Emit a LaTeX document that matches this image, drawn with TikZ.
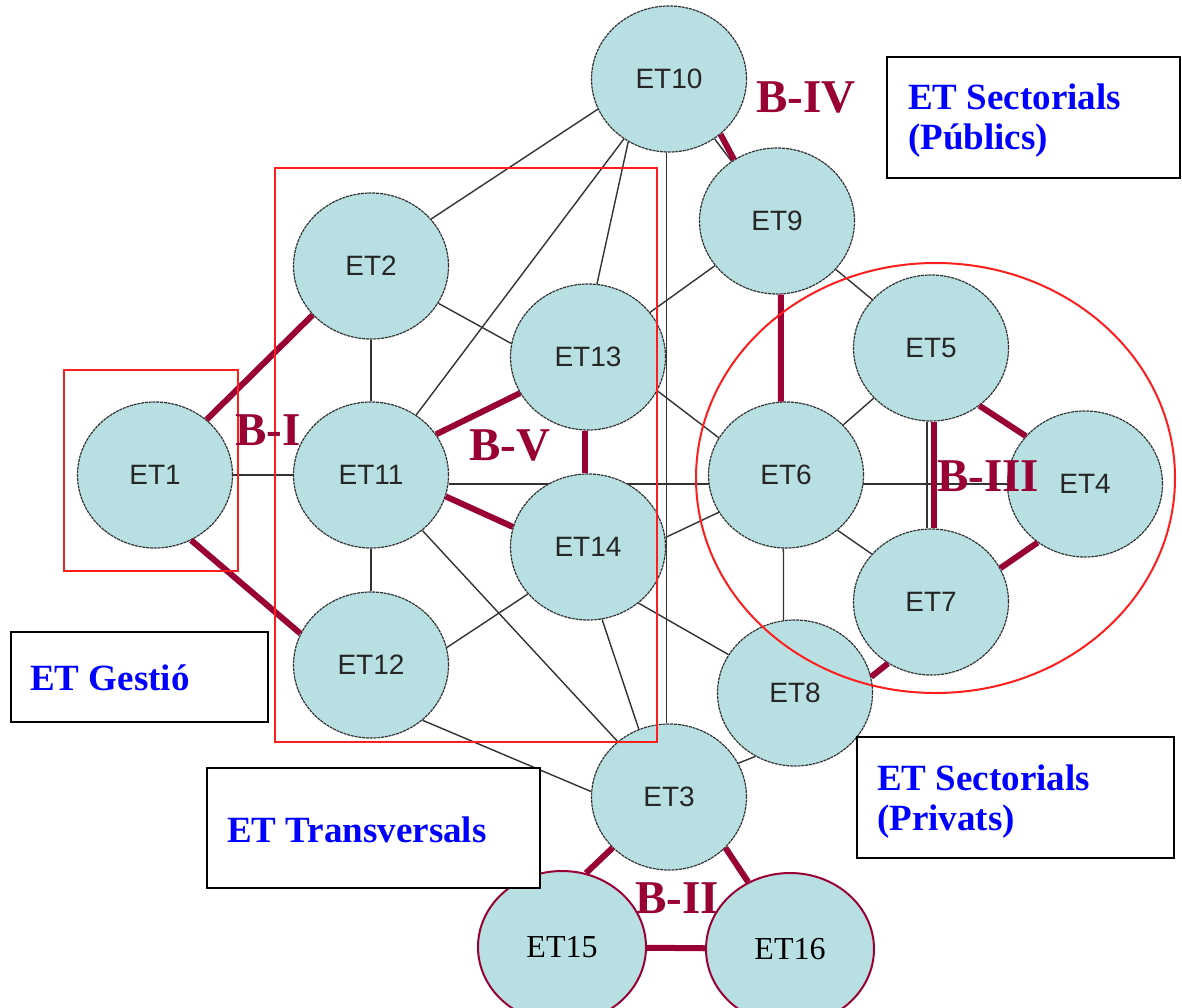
\documentclass[tikz,border=0pt]{standalone}
\usepackage{fontspec}
\setmainfont{Liberation Serif}
\newfontfamily\arialf{Liberation Sans}
\usetikzlibrary{shapes.geometric,backgrounds}
\definecolor{etfill}{RGB}{184,223,226}
\definecolor{bred}{RGB}{153,0,51}
\definecolor{bblue}{RGB}{0,0,255}
\definecolor{rgrp}{RGB}{255,30,30}
\begin{document}
\begin{tikzpicture}[x=1pt,y=-1pt,
 et/.style={ellipse, draw=black!80, line width=1.2pt, dash pattern=on 3pt off 0.8pt, fill=etfill, inner sep=0pt,
   minimum width=155pt, minimum height=146pt, font=\arialf\fontsize{28}{30}\selectfont, text=black!85},
 etb/.style={ellipse, draw=bred, line width=2pt, fill=etfill, inner sep=0pt,
   minimum width=168pt, minimum height=152pt, font=\fontsize{32}{34}\selectfont},
 link/.style={draw=black!80, line width=1.4pt},
 bond/.style={draw=bred, line width=6pt},
 blab/.style={text=bred, font=\bfseries\fontsize{47}{50}\selectfont, inner sep=0pt, anchor=base west},
 glab/.style={text=bblue, font=\bfseries\fontsize{37}{40}\selectfont, inner sep=0pt, anchor=base west},
 lbox/.style={draw=black, line width=2pt, fill=white, inner sep=0pt},
 grp/.style={draw=rgrp, line width=2pt}
]
\useasboundingbox (0,0) rectangle (1182,1008);
\clip (0,0) rectangle (1182,1008);

% ---- nodes
\node[et] (ET10) at (669,79) {ET10};
\node[et] (ET9)  at (777,221) {ET9};
\node[et] (ET2)  at (371,266) {ET2};
\node[et] (ET13) at (588,357) {ET13};
\node[et] (ET1)  at (155,475) {ET1};
\node[et] (ET11) at (371,475) {ET11};
\node[et] (ET14) at (588,547) {ET14};
\node[et] (ET12) at (371,665) {ET12};
\node[et] (ET3)  at (669,797) {ET3};
\node[et] (ET6)  at (786,475) {ET6};
\node[et] (ET5)  at (931,348) {ET5};
\node[et] (ET4)  at (1085,484) {ET4};
\node[et] (ET7)  at (931,602) {ET7};
\node[et] (ET8)  at (795,693) {ET8};
\node[etb] (ET15) at (562,947) {ET15};
\node[etb] (ET16) at (790,949) {ET16};

% ---- thin links (behind the nodes)
\begin{pgfonlayer}{background}
\fill[white] (0,0) rectangle (1182,1008);
\draw[link] (ET2.38) -- (ET10.203);
\draw[link] (ET11) -- (ET10);
\draw[link] (ET13.83) -- (ET10.237);
\draw[link] (ET10.-92) -- (ET3.92);
\draw[link] (ET10) -- (ET9);
\draw[link] (ET2) -- (ET11);
\draw[link] (ET2.-29) -- (ET13.170);
\draw[link] (ET1) -- (ET11);
\draw[link] (ET11) -- (ET12);
\draw[link] (ET11.east |- ET4) -- (ET4);
\draw[link] (ET11) -- (ET3);
\draw[link] (ET13) -- (ET9);
\draw[link] (ET13.-26) -- (ET6.151);
\draw[link] (ET14.7) -- (ET6.209);
\draw[link] (ET14.-48) -- (ET8.150);
\draw[link] (ET14.-79) -- (ET3.114);
\draw[link] (ET14.218) -- (ET12.13);
\draw[link] (ET12.-47) -- (ET3.176);
\draw[link] (ET9) -- (ET5);
\draw[link] (ET5) -- (ET6);
\draw[link] (ET5.-93) -- (ET7.93);
\draw[link] (ET6.-47) -- (ET7.141);
\draw[link] (ET6.-92) -- (ET8.99);
\draw[link] (ET3.26) -- (ET8.238);
\end{pgfonlayer}

% ---- thick B links
\draw[bond] (ET1.47) -- (ET2.220);
\draw[bond] (ET1.-61) -- (ET12.156);
\draw[bond] (ET11.32) -- (ET13.208);
\draw[bond] (ET11.-16) -- (ET14.165);
\draw[bond] (ET13.-92) -- (ET14.92);
\draw[bond] (ET10.-47) -- (ET9.125);
\draw[bond] (ET9.-87) -- (ET6.94);
\draw[bond] (ET5.-88) -- (ET7.88);
\draw[bond] (ET5.-50) -- (ET4.141);
\draw[bond] (ET7.26) -- (ET4.231);
\draw[bond] (ET7.235) -- (ET8.12);
\draw[bond] (ET3.222) -- (ET15.72);
\draw[bond] (ET3.-42) -- (ET16.122);
\draw[bond] (ET15) -- (ET16);

% ---- red groups
\draw[grp] (64,370) rectangle (238,571);
\draw[grp] (275,168) rectangle (657,742);
\draw[grp] (935.5,478) ellipse [x radius=239.5, y radius=215];

% ---- label boxes
\node[lbox, minimum width=293pt, minimum height=121pt] (boxPub) at (1033.5,117.5) {};
\node[lbox, minimum width=257pt, minimum height=90pt] (boxGes) at (139.5,677) {};
\node[lbox, minimum width=333pt, minimum height=120pt] (boxTra) at (373.5,828) {};
\node[lbox, minimum width=317pt, minimum height=121pt] (boxPri) at (1015.5,797.5) {};

\node[glab] (tPub1) at (908,110) {ET Sectorials};
\node[glab] (tPub2) at (908,150) {(Públics)};
\node[glab] (tGes) at (30,690) {ET Gestió};
\node[glab] (tTra) at (227,842) {ET Transversals};
\node[glab] (tPri1) at (877,790) {ET Sectorials};
\node[glab] (tPri2) at (877,830) {(Privats)};

% ---- B labels
\node[blab] (bIV) at (756,113) {B-IV};
\node[blab] (bI) at (235,445) {B-I};
\node[blab] (bV) at (469,460) {B-V};
\node[blab] (bIII) at (937,491) {B-III};
\node[blab] (bII) at (635,913) {B-II};
\end{tikzpicture}
\end{document}
